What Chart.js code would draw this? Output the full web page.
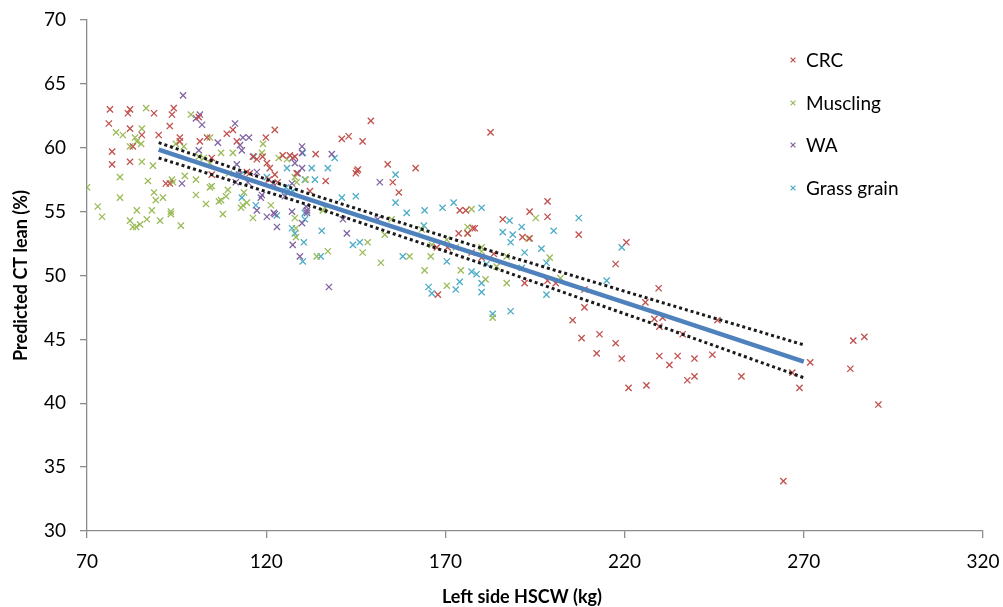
<!DOCTYPE html>
<html>
<head>
<meta charset="utf-8">
<script src="https://cdn.jsdelivr.net/npm/chart.js@4/dist/chart.umd.min.js"></script>
<style>
html,body{margin:0;padding:0;background:#fff;}
#wrap{width:1003px;height:607px;position:relative;}
</style>
</head>
<body>
<div id="wrap"><canvas id="c" width="1003" height="607"></canvas></div>
<script>
// ---- Data (x: left side HSCW kg, y: predicted CT lean %) ----
const seriesNames = ["CRC", "Muscling", "WA", "Grass grain"];

const crc = [[76.4,63.0],[76.1,61.9],[77,59.7],[77,58.7],[81.4,62.7],[82,63.0],[82,61.5],[82.8,60.1],[82,58.9],[85.3,61.0],[88.7,62.7],[90,61.0],[93.1,61.7],[94.2,63.1],[93.7,62.6],[95.9,60.8],[95.9,60.5],[92,57.2],[93.1,57.2],[101.5,60.5],[101.2,62.4],[103.5,60.8],[104.8,59.2],[104.8,57.9],[109,61.1],[110.7,61.4],[111.8,60.5],[114.6,58.1],[115.4,58.0],[116.3,59.3],[117.4,59.1],[119,59.3],[120.2,58.8],[122.4,61.4],[119.9,60.8],[121,58.4],[120.7,57.5],[122.4,57.9],[123.2,57.3],[124.6,59.4],[126.6,59.4],[128,59.3],[128.5,58.0],[133.8,59.5],[136.6,57.4],[132.2,56.6],[141.1,60.7],[143,60.9],[146.9,60.5],[149.2,62.1],[145.3,58.2],[145,58.0],[145.6,58.3],[153.9,58.7],[155.3,57.3],[157,56.5],[161.7,58.4],[182.6,61.2],[174,55.1],[175.7,55.1],[177.6,53.7],[178.2,53.7],[176.2,53.3],[173.7,53.3],[167.6,52.2],[170.6,52.2],[177.3,51.8],[180.1,51.4],[183.5,51.7],[186,54.4],[191.5,53.0],[193.5,52.9],[193.5,55.0],[198.5,55.8],[198.5,54.6],[192.1,49.4],[198.5,49.6],[200.8,49.4],[208.8,48.9],[207.2,53.2],[217.5,50.9],[220.5,52.6],[229.5,49.0],[167.9,48.5],[208.8,47.5],[205.5,46.5],[208,45.1],[213,45.4],[217.5,44.7],[212.2,43.9],[219.2,43.5],[221.1,41.2],[226.1,41.4],[225.8,47.9],[228.3,46.6],[230.6,46.7],[229.7,46.0],[229.7,43.7],[232.5,43.0],[236.2,45.4],[234.8,43.7],[239.5,43.5],[237.5,41.8],[239.5,42.1],[244.5,43.8],[245.9,46.5],[252.6,42.1],[266.8,42.4],[268.8,41.2],[271.8,43.2],[264.3,33.9],[283.8,44.9],[286.9,45.2],[283,42.7],[290.8,39.9]];

const muscling = [[70,56.9],[73,55.4],[74.2,54.6],[78.1,61.2],[80,61.0],[82,60.1],[83.4,60.8],[85.3,61.5],[85.1,60.3],[83.9,60.5],[85.3,58.9],[79.2,57.7],[79.2,56.1],[82,54.3],[83.9,55.1],[82.8,53.8],[83.7,53.8],[84.8,54.0],[86.7,54.4],[88.1,55.1],[90.4,54.3],[87,57.4],[88.4,58.6],[88.7,56.5],[89.2,55.9],[91.2,56.1],[86.5,63.1],[93.4,55.0],[93.4,54.8],[93.7,57.5],[94,57.3],[96.2,53.9],[97,60.1],[97.3,57.8],[94.8,60.3],[99,62.6],[100.4,56.3],[100.4,57.5],[101.2,59.3],[102.6,59.2],[103.2,55.6],[104.3,56.9],[104.8,57.0],[104.3,58.8],[104.3,60.8],[106.8,55.8],[107.4,55.9],[108.8,56.2],[109.3,56.7],[107.9,54.8],[107.4,59.6],[110.7,59.6],[109.6,58.0],[113,55.3],[113.8,56.5],[116.3,54.5],[114.6,55.7],[118.8,59.6],[119.1,60.3],[121.3,55.5],[123.5,59.2],[125.8,59.1],[128,57.7],[128.5,57.3],[131,57.5],[128,54.5],[128.3,53.7],[128.3,53.0],[134.1,51.5],[137.2,51.9],[136.4,55.3],[135.8,55.1],[148.3,52.6],[146.9,51.8],[152,51.0],[153.1,53.2],[155,54.4],[160,51.5],[163.4,53.6],[164.2,50.4],[165.9,51.5],[166.2,52.4],[177.3,55.2],[195.2,54.5],[176.2,53.8],[176.2,53.3],[193.2,52.9],[180.1,52.2],[180.1,51.9],[187.1,51.5],[199.1,51.4],[184.3,50.7],[174.3,50.4],[170.4,49.2],[181.2,49.7],[187.1,49.4],[202.1,49.8],[183.2,46.7],[170.4,52.8],[172.9,52.2],[113.5,55.5]];

const wa = [[96.8,64.1],[100.4,62.3],[101.5,62.6],[102.1,61.8],[101.2,59.8],[96.5,57.2],[106.5,60.4],[111.3,61.9],[112.7,60.2],[113.2,59.8],[115.2,60.8],[113.5,60.8],[112.4,57.9],[111.5,57.3],[114.9,57.3],[117.4,58.1],[117.4,55.1],[118.5,56.1],[120.2,54.6],[122.1,54.9],[123,53.8],[127.2,57.2],[127.4,59.2],[128,58.8],[130,60.1],[130,59.6],[130,58.4],[127.4,52.4],[127.2,55.0],[129.4,51.5],[130,54.1],[131.1,55.4],[131.4,55.1],[131.4,54.9],[137.5,49.1],[121.9,57.2],[138.3,59.5],[111.8,58.7],[118.8,56.3],[125.2,56.2],[128.8,58.0],[151.7,57.3],[122.4,54.8],[142.5,53.3],[141.4,54.4],[151.1,54.4]];

const grassGrain = [[116.6,59.3],[112.9,57.9],[113.2,56.1],[117.1,55.5],[120.2,57.7],[123,54.7],[125.5,56.9],[125.8,58.4],[127.2,53.7],[128,53.3],[127.4,56.6],[130.2,59.6],[130.5,52.6],[130.2,51.1],[130.8,54.9],[130.8,54.4],[132.7,58.4],[135.5,53.5],[137.2,58.4],[133.6,57.5],[139.1,59.2],[141.1,56.1],[145,56.2],[156.1,57.9],[156.1,55.7],[130.8,57.5],[125.8,56.5],[159.2,54.9],[164.2,55.1],[169.2,55.3],[172.3,55.7],[180.1,55.3],[144.2,52.4],[146.1,52.6],[158.1,51.5],[170.4,51.1],[164,53.9],[187.9,54.3],[191.3,53.8],[186,53.4],[188.8,53.2],[188.2,52.6],[192.1,51.8],[196.8,52.1],[200.2,53.5],[207.2,54.5],[198.2,51.0],[198.2,48.5],[191.3,50.6],[178.7,50.1],[177.3,50.3],[174,49.5],[180.1,49.4],[180.1,48.7],[165.3,49.1],[166.2,48.6],[172.9,48.9],[215,49.6],[219.2,52.2],[181.5,50.9],[183.2,47.0],[188.2,47.2],[135.2,51.5]];

// regression line and confidence bands
const fitX = [90, 130, 180, 230, 270];
const fitY = [59.85, 56.13, 51.55, 46.97, 43.25];
const upperY = [60.4, 56.58, 52.15, 47.92, 44.57];
const lowerY = [59.2, 55.68, 50.95, 46.02, 42.0];

const xTicks = [70, 120, 170, 220, 270, 320];
const yTicks = [30, 35, 40, 45, 50, 55, 60, 65, 70];

const xTitle = 'Left side HSCW (kg)';
const yTitle = 'Predicted CT lean (%)';

const colors = ["#C0504D", "#9BBB59", "#8064A2", "#4BACC6"];

// ---- Build ----
const toPts = arr => arr.map(p => ({x: p[0], y: p[1]}));
const zip = (xs, ys) => xs.map((x, i) => ({x: x, y: ys[i]}));

const scatterSets = [crc, muscling, wa, grassGrain].map((arr, i) => ({
  type: 'scatter',
  label: seriesNames[i],
  data: toPts(arr),
  pointStyle: 'crossRot',
  pointRadius: 4.4,
  pointBorderWidth: 1.3,
  borderColor: colors[i],
  backgroundColor: colors[i],
  order: 5 + i
}));

const lineSets = [
  {label: 'upper', data: zip(fitX, upperY), borderColor: '#1a1a1a', borderWidth: 3, borderDash: [3, 3], order: 1},
  {label: 'lower', data: zip(fitX, lowerY), borderColor: '#1a1a1a', borderWidth: 3, borderDash: [3, 3], order: 1},
  {label: 'fit', data: zip(fitX, fitY), borderColor: '#4F81BD', borderWidth: 4.5, order: 0}
].map(d => Object.assign({type: 'line', showLine: true, pointRadius: 0, fill: false, tension: 0}, d));

const fontFamily = 'Lato, "Open Sans", sans-serif';

const legendPlugin = {
  id: 'customLegend',
  afterDraw(chart) {
    const ctx = chart.ctx;
    const ys = [60, 103, 145, 188];
    ctx.save();
    for (let i = 0; i < seriesNames.length; i++) {
      const cx = 793, cy = ys[i], r = 2.4;
      ctx.strokeStyle = colors[i];
      ctx.lineWidth = 1.2;
      ctx.beginPath();
      ctx.moveTo(cx - r, cy - r); ctx.lineTo(cx + r, cy + r);
      ctx.moveTo(cx - r, cy + r); ctx.lineTo(cx + r, cy - r);
      ctx.stroke();
      ctx.fillStyle = '#000';
      ctx.font = '19px ' + fontFamily;
      ctx.textBaseline = 'middle';
      ctx.textAlign = 'left';
      ctx.fillText(seriesNames[i], 806, cy + 1);
    }
    const a = chart.chartArea;
    ctx.font = 'bold 18px ' + fontFamily;
    ctx.textAlign = 'center';
    ctx.textBaseline = 'middle';
    // x axis title
    ctx.fillText(xTitle, 522, 597);
    // y axis title, centred on the plot area
    ctx.translate(21, (a.top + a.bottom) / 2);
    ctx.rotate(-Math.PI / 2);
    ctx.fillText(yTitle, 0, 0);
    ctx.restore();
  }
};

const axisColor = '#8c8c8c';
const tickFont = {family: fontFamily, size: 19};

new Chart(document.getElementById('c'), {
  type: 'scatter',
  data: {datasets: [...lineSets, ...scatterSets]},
  plugins: [legendPlugin],
  options: {
    responsive: false,
    animation: false,
    layout: {padding: {top: 20, right: 20, left: 0, bottom: 0}},
    plugins: {legend: {display: false}, tooltip: {enabled: false}},
    scales: {
      x: {
        type: 'linear', min: 70, max: 320,
        afterBuildTicks: s => { s.ticks = xTicks.map(v => ({value: v})); },
        afterFit: s => { s.height = 76; s.paddingRight = 0; s.paddingLeft = 0; },
        ticks: {color: '#000', font: tickFont, padding: 12, maxRotation: 0},
        grid: {display: true, drawOnChartArea: false, drawTicks: true, tickLength: 7, color: axisColor, lineWidth: 1.3},
        border: {color: axisColor, width: 1.3},
        title: {display: false}
      },
      y: {
        type: 'linear', min: 30, max: 70,
        afterBuildTicks: s => { s.ticks = yTicks.map(v => ({value: v})); },
        afterFit: s => { s.width = 87; s.paddingTop = 0; s.paddingBottom = 0; },
        ticks: {color: '#000', font: tickFont, padding: 14},
        grid: {display: true, drawOnChartArea: false, drawTicks: true, tickLength: 7, color: axisColor, lineWidth: 1.3},
        border: {color: axisColor, width: 1.3},
        title: {display: false}
      }
    }
  }
});
</script>
</body>
</html>
